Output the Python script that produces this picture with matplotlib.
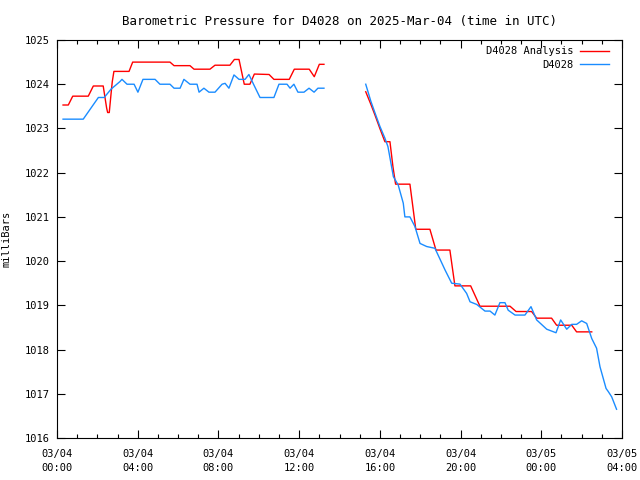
import numpy as np
import matplotlib
matplotlib.use("Agg")
import matplotlib.pyplot as plt
from matplotlib.ticker import MultipleLocator

# hours since 03/04 00:00 UTC, pressure in mb
red1_t = [0.30, 0.56, 0.78, 1.55, 1.80, 2.29, 2.46, 2.51, 2.59, 2.68, 2.74, 2.82, 3.57, 3.75,
          5.60, 5.80, 6.59, 6.79, 7.58, 7.83, 8.57, 8.79, 9.02, 9.28, 9.56, 9.78, 10.51, 10.75,
          11.51, 11.76, 12.50, 12.75, 13.00, 13.23]
red1_p = [1023.53, 1023.53, 1023.73, 1023.73, 1023.96, 1023.96, 1023.46, 1023.36, 1023.36, 1023.79,
          1024.06, 1024.29, 1024.29, 1024.50, 1024.50, 1024.42, 1024.42, 1024.34, 1024.34, 1024.43,
          1024.43, 1024.56, 1024.56, 1024.00, 1024.00, 1024.23, 1024.22, 1024.11, 1024.11, 1024.34,
          1024.34, 1024.17, 1024.45, 1024.45]

red2_t = [15.30, 15.55, 15.76, 16.00, 16.25, 16.50, 16.65, 16.78, 17.49, 17.78, 18.48, 18.78,
          19.47, 19.72, 20.50, 20.96, 22.45, 22.75, 23.52, 23.77, 24.51, 24.76, 25.51, 25.75, 26.50]
red2_p = [1023.83, 1023.55, 1023.30, 1023.00, 1022.70, 1022.70, 1022.13, 1021.74, 1021.74, 1020.72,
          1020.72, 1020.25, 1020.25, 1019.44, 1019.44, 1018.98, 1018.98, 1018.86, 1018.86, 1018.71,
          1018.71, 1018.55, 1018.55, 1018.40, 1018.40]

blue1_t = [0.30, 1.30, 2.05, 2.34, 2.68, 3.12, 3.22, 3.47, 3.82, 4.01, 4.26, 4.86, 5.10, 5.60,
           5.80, 6.10, 6.29, 6.59, 6.94, 7.04, 7.28, 7.53, 7.83, 8.18, 8.33, 8.52, 8.77, 9.02,
           9.32, 9.51, 9.76, 10.06, 10.75, 11.00, 11.40, 11.55, 11.74, 11.94, 12.24, 12.49,
           12.74, 12.93, 13.23]
blue1_p = [1023.21, 1023.21, 1023.70, 1023.70, 1023.89, 1024.06, 1024.11, 1024.00, 1024.00, 1023.82,
           1024.11, 1024.11, 1024.00, 1024.00, 1023.91, 1023.91, 1024.11, 1024.00, 1024.00, 1023.82,
           1023.91, 1023.82, 1023.82, 1024.00, 1024.02, 1023.91, 1024.21, 1024.11, 1024.11, 1024.22,
           1023.98, 1023.70, 1023.70, 1024.00, 1024.00, 1023.91, 1024.00, 1023.82, 1023.82, 1023.91,
           1023.82, 1023.91, 1023.91]

blue2_t = [15.30, 15.55, 15.76, 16.00, 16.25, 16.40, 16.67, 16.91, 17.16, 17.24, 17.49, 17.74,
           17.99, 18.32, 18.73, 19.23, 19.56, 19.97, 20.30, 20.47, 20.80, 21.21, 21.46, 21.70,
           21.95, 22.20, 22.36, 22.70, 23.19, 23.49, 23.77, 24.27, 24.73, 24.96, 25.26, 25.51,
           25.75, 26.00, 26.25, 26.50, 26.74, 26.91, 27.21, 27.32, 27.49, 27.73]
blue2_p = [1024.00, 1023.62, 1023.35, 1023.05, 1022.78, 1022.59, 1021.91, 1021.72, 1021.31, 1021.00,
           1021.00, 1020.78, 1020.40, 1020.33, 1020.29, 1019.80, 1019.50, 1019.48, 1019.27, 1019.08,
           1019.02, 1018.87, 1018.87, 1018.78, 1019.06, 1019.06, 1018.89, 1018.78, 1018.78, 1018.97,
           1018.67, 1018.46, 1018.38, 1018.67, 1018.46, 1018.57, 1018.57, 1018.65, 1018.59, 1018.25,
           1018.03, 1017.61, 1017.12, 1017.05, 1016.93, 1016.65]

xtick_pos = [0, 4, 8, 12, 16, 20, 24, 28]
xtick_lab = ["03/04\n00:00", "03/04\n04:00", "03/04\n08:00", "03/04\n12:00",
             "03/04\n16:00", "03/04\n20:00", "03/05\n00:00", "03/05\n04:00"]

plt.rcParams['font.family'] = ['DejaVu Sans Mono']
plt.rcParams['font.size'] = 7.5

dpi = 100
fig = plt.figure(figsize=(6.4, 4.8), dpi=dpi)
ax = fig.add_axes([57/640, 42/480, 565/640, 398/480])

red = '#ff0000'
blue = '#1a8cff'
lw = 1.0
ax.plot(red1_t, red1_p, color=red, lw=lw, label='D4028 Analysis')
ax.plot(red2_t, red2_p, color=red, lw=lw)
ax.plot(blue1_t, blue1_p, color=blue, lw=lw, label='D4028')
ax.plot(blue2_t, blue2_p, color=blue, lw=lw)

ax.set_xlim(0, 28)
ax.set_ylim(1016, 1025)
ax.set_xticks(xtick_pos)
ax.set_xticklabels(xtick_lab, linespacing=1.5)
ax.xaxis.set_minor_locator(MultipleLocator(1))
ax.yaxis.set_major_locator(MultipleLocator(1))
ax.tick_params(which='both', direction='in', top=True, right=True, width=0.8)
ax.tick_params(which='major', length=6)
ax.tick_params(axis='x', which='major', pad=8)
ax.tick_params(axis='y', which='major', pad=5)
ax.tick_params(which='minor', length=3)
for s in ax.spines.values():
    s.set_linewidth(0.8)

ax.set_title('Barometric Pressure for D4028 on 2025-Mar-04 (time in UTC)', pad=11)
ax.set_ylabel('milliBars', labelpad=10)

ax.legend(loc='upper right', bbox_to_anchor=(0.988, 1.0), frameon=False, markerfirst=False,
          handlelength=2.8, handletextpad=0.6, borderaxespad=0.2, labelspacing=0.35,
          fontsize=7.5)

fig.savefig('out.png', dpi=dpi)
